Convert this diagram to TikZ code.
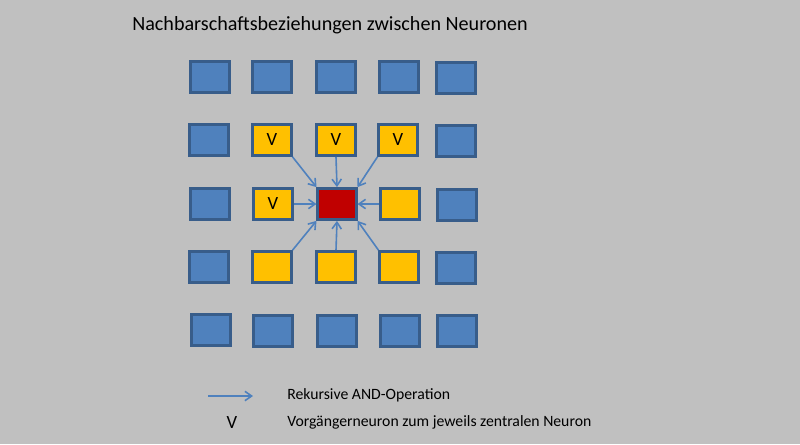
\documentclass[tikz,border=0pt]{standalone}
\usepackage{fontspec}
\setmainfont{Carlito}
\usetikzlibrary{arrows.meta}
\definecolor{bg}{HTML}{C0C0C0}
\definecolor{nblue}{HTML}{4F81BD}
\definecolor{nblueb}{HTML}{385D8A}
\definecolor{nyellow}{HTML}{FFC000}
\definecolor{nred}{HTML}{C00000}
\definecolor{arr}{HTML}{4F81BD}
\tikzset{
  neuron/.style={draw=nblueb, line width=1.8pt, minimum width=29pt, minimum height=23.5pt, inner sep=0pt},
  bluen/.style={neuron, fill=nblue},
  yelln/.style={neuron, fill=nyellow, font=\fontsize{14}{14}\selectfont},
  redn/.style={neuron, fill=nred},
  link/.style={draw=arr, line width=1.2pt, -{Straight Barb[length=5pt,width=7pt]}},
  lbl/.style={anchor=west, inner sep=0pt, font=\fontsize{11.8}{13}\selectfont},
}
\begin{document}
\begin{tikzpicture}[x=0.75pt,y=-0.75pt]
\fill[bg] (0,0) rectangle (800,444);
\useasboundingbox (0,0) rectangle (800,444);
\node[anchor=west, inner sep=0pt, font=\fontsize{15.1}{17}\selectfont] (title) at (132,25) {Nachbarschaftsbeziehungen zwischen Neuronen};
% row 1
\node[bluen] (n11) at (210,77) {};
\node[bluen] (n12) at (272,77) {};
\node[bluen] (n13) at (336,77) {};
\node[bluen] (n14) at (399,77) {};
\node[bluen] (n15) at (456,78) {};
% row 2
\node[bluen] (n21) at (209,140) {};
\node[yelln] (n22) at (272,140) {V};
\node[yelln] (n23) at (336,140) {V};
\node[yelln] (n24) at (398,140) {V};
\node[bluen] (n25) at (456,141) {};
% row 3
\node[bluen] (n31) at (210,204) {};
\node[yelln] (n32) at (273,204) {V};
\node[redn] (c) at (337,204) {};
\node[yelln] (n34) at (400,204) {};
\node[bluen] (n35) at (457,205) {};
% row 4
\node[bluen] (n41) at (209,267) {};
\node[yelln] (n42) at (272,267) {};
\node[yelln] (n43) at (336,267) {};
\node[yelln] (n44) at (399,267) {};
\node[bluen] (n45) at (456,268) {};
% row 5
\node[bluen] (n51) at (211,330) {};
\node[bluen] (n52) at (273,331) {};
\node[bluen] (n53) at (337,331) {};
\node[bluen] (n54) at (400,331) {};
\node[bluen] (n55) at (457,331) {};
% arrows
\draw[link] (n22.south east) -- (c.north west);
\draw[link] (n23.south) -- (c.north);
\draw[link] (n24.south west) -- (c.north east);
\draw[link] (n32.east) -- (c.west);
\draw[link] (n34.west) -- (c.east);
\draw[link] (n42.north east) -- (c.south west);
\draw[link] (n43.north) -- (c.south);
\draw[link] (n44.north west) -- (c.south east);
% legend
\coordinate (la) at (208,396);
\coordinate (lb) at (253,396);
\draw[link] (la) -- (lb);
\node[lbl] (l1) at (287,395) {Rekursive AND-Operation};
\node[inner sep=0pt, font=\fontsize{14}{14}\selectfont] (lv) at (232,423) {V};
\node[lbl] (l2) at (287,422) {Vorgängerneuron zum jeweils zentralen Neuron};
\end{tikzpicture}
\end{document}
